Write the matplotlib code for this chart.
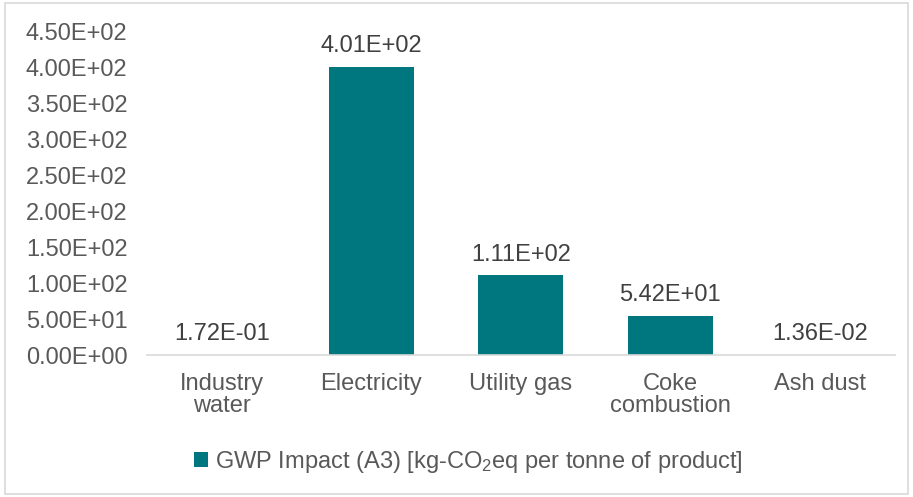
import matplotlib
matplotlib.use("Agg")
import matplotlib.pyplot as plt
from matplotlib.patches import Rectangle
from matplotlib.ticker import FuncFormatter

plt.rcParams['font.family'] = ['Liberation Sans', 'DejaVu Sans']
plt.rcParams['mathtext.fontset'] = 'custom'
plt.rcParams['mathtext.rm'] = 'Liberation Sans'
plt.rcParams['mathtext.it'] = 'Liberation Sans'

categorias = ["Industry\nwater", "Electricity", "Utility gas", "Coke\ncombustion", "Ash dust"]
valores = [1.72e-01, 4.01e+02, 1.11e+02, 5.42e+01, 1.36e-02]
rotulos = ["1.72E-01", "4.01E+02", "1.11E+02", "5.42E+01", "1.36E-02"]
legenda = "GWP Impact (A3) [kg-CO$_2$eq per tonne of product]"

cor_barra = "#00777F"
cor_texto = "#595959"
tam = 17

fig = plt.figure(figsize=(9.13, 4.97), dpi=100)
ax = fig.add_axes([0.161, 0.2857, 0.819, 0.65])

x = range(len(categorias))
barras = ax.bar(x, valores, width=0.57, color=cor_barra, label=legenda)

for xi, v, r in zip(x, valores, rotulos):
    ax.annotate(r, (xi, v), xytext=(0, 7), textcoords="offset points",
                ha="center", va="bottom", fontsize=tam, color="#404040")

ax.set_ylim(0, 450)
ax.set_xlim(-0.5, len(categorias) - 0.5)
ax.set_yticks(range(0, 451, 50))
ax.yaxis.set_major_formatter(FuncFormatter(lambda v, p: f"{v:.2E}"))
ax.set_xticks(list(x))
ax.set_xticklabels(categorias, fontsize=tam, color=cor_texto, linespacing=1.0)
ax.tick_params(axis="y", length=0, labelsize=tam, labelcolor=cor_texto, pad=14)
ax.tick_params(axis="x", length=0, pad=13)

for lado in ["top", "right", "left"]:
    ax.spines[lado].set_visible(False)
ax.spines["bottom"].set_color("#D9D9D9")
ax.spines["bottom"].set_linewidth(1.2)

fig.legend(handles=[barras], labels=[legenda], loc="center",
           bbox_to_anchor=(0.513, 0.07), frameon=False, fontsize=tam,
           handlelength=0.6, handleheight=0.6, handletextpad=0.3,
           labelcolor=cor_texto)

# moldura em volta do gráfico
fig.patches.append(Rectangle((0.006, 0.006), 0.988, 0.988, transform=fig.transFigure,
                             fill=False, edgecolor="#D9D9D9", linewidth=1.2))

plt.savefig("out.png", dpi=100)
plt.close(fig)
